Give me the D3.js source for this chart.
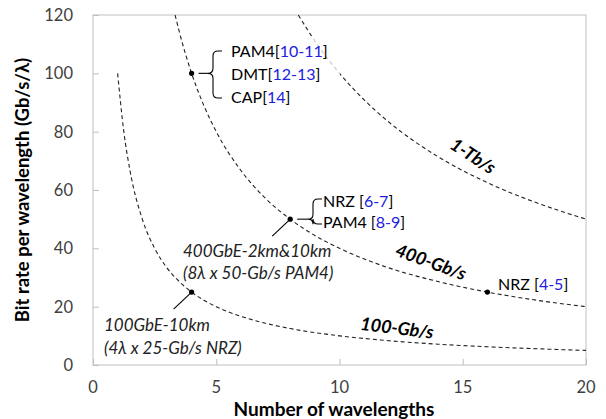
<!DOCTYPE html>
<html>
<head>
<meta charset="utf-8">
<script src="https://cdn.jsdelivr.net/npm/d3@7"></script>
<style>
  body { margin: 0; background: #fff; }
  svg { font-family: Lato, "Open Sans", sans-serif; }
</style>
</head>
<body>
<svg id="chart" width="606" height="419"></svg>
<script>
// curves: constant total capacity (Gb/s) = wavelengths x rate
const curve100X = [1, 1.25, 1.5, 2, 2.5, 3, 3.5, 4, 5, 6, 7, 8, 10, 12, 14, 16, 18, 20];
const curve100Y = [100, 80, 66.7, 50, 40, 33.3, 28.6, 25, 20, 16.7, 14.3, 12.5, 10, 8.33, 7.14, 6.25, 5.56, 5];
const curve400X = [3.33, 3.5, 4, 4.5, 5, 6, 7, 8, 9, 10, 12, 14, 16, 18, 20];
const curve400Y = [120, 114.3, 100, 88.9, 80, 66.7, 57.1, 50, 44.4, 40, 33.3, 28.6, 25, 22.2, 20];
const curve1TX = [8.33, 9, 10, 11, 12, 13, 14, 16, 18, 20];
const curve1TY = [120, 111.1, 100, 90.9, 83.3, 76.9, 71.4, 62.5, 55.6, 50];

const pointX = [4, 8, 4, 16];
const pointY = [100, 50, 25, 25];

const xTicks = [0, 5, 10, 15, 20];
const yTicks = [0, 20, 40, 60, 80, 100, 120];

const svg = d3.select("#chart");
const margin = { left: 93, right: 20, top: 15, bottom: 54 };
const width = 606, height = 419;

const x = d3.scaleLinear().domain([0, 20]).range([margin.left, width - margin.right]);
const y = d3.scaleLinear().domain([0, 120]).range([height - margin.bottom, margin.top]);

const axisColor = "#bfbfbf";
const textColor = "#404040";

// plot frame
svg.append("rect")
  .attr("x", x(0)).attr("y", y(120))
  .attr("width", x(20) - x(0)).attr("height", y(0) - y(120))
  .attr("fill", "none").attr("stroke", axisColor).attr("stroke-width", 1);

// axes (ticks inside)
const xAxis = svg.append("g")
  .attr("transform", `translate(0,${y(0)})`)
  .call(d3.axisTop(x).tickValues(xTicks).tickSize(6).tickFormat(""));
xAxis.select(".domain").remove();
xAxis.selectAll("line").attr("stroke", axisColor);

const yAxis = svg.append("g")
  .attr("transform", `translate(${x(0)},0)`)
  .call(d3.axisRight(y).tickValues(yTicks).tickSize(6).tickFormat(""));
yAxis.select(".domain").remove();
yAxis.selectAll("line").attr("stroke", axisColor);

svg.append("g").selectAll("text")
  .data(xTicks).join("text")
  .attr("x", d => x(d)).attr("y", 393)
  .attr("text-anchor", "middle")
  .attr("font-size", 16.5).attr("fill", textColor)
  .text(d => d);

svg.append("g").selectAll("text")
  .data(yTicks).join("text")
  .attr("x", 73).attr("y", d => y(d) + 6)
  .attr("text-anchor", "end")
  .attr("font-size", 16.5).attr("fill", textColor)
  .text(d => d);

// axis titles
svg.append("text")
  .attr("x", 334).attr("y", 416)
  .attr("text-anchor", "middle")
  .attr("font-size", 19).attr("font-weight", "bold").attr("fill", "#000")
  .text("Number of wavelengths");

svg.append("text")
  .attr("transform", `translate(29,${(y(0) + y(120)) / 2}) rotate(-90)`)
  .attr("text-anchor", "middle")
  .attr("font-size", 18.5).attr("font-weight", "bold").attr("fill", "#000")
  .text("Bit rate per wavelength (Gb/s/λ)");

// dashed curves
const line = d3.line().x(d => x(d[0])).y(d => y(d[1])).curve(d3.curveMonotoneX);
const curves = [
  d3.zip(curve100X, curve100Y),
  d3.zip(curve400X, curve400Y),
  d3.zip(curve1TX, curve1TY)
];
svg.append("g").selectAll("path")
  .data(curves).join("path")
  .attr("d", line)
  .attr("fill", "none")
  .attr("stroke", "#222")
  .attr("stroke-width", 1.1)
  .attr("stroke-dasharray", "4,3");

// semi-transparent box behind the modulation list
svg.append("rect")
  .attr("x", 218).attr("y", 36).attr("width", 122).attr("height", 76)
  .attr("fill", "#fff").attr("opacity", 0.75);

// points
svg.append("g").selectAll("circle")
  .data(d3.zip(pointX, pointY)).join("circle")
  .attr("cx", d => x(d[0])).attr("cy", d => y(d[1]))
  .attr("r", 2.6).attr("fill", "#000");

// curly braces and leader lines
const ann = svg.append("g").attr("fill", "none").attr("stroke", "#000").attr("stroke-width", 1.1);
function brace(bx, top, mid, bot, armEnd, nubStart) {
  const r = 5;
  ann.append("path").attr("d",
    `M${armEnd},${top} L${bx + r},${top} Q${bx},${top} ${bx},${top + r}` +
    ` L${bx},${mid - r} Q${bx},${mid} ${bx - r},${mid} Q${bx},${mid} ${bx},${mid + r}` +
    ` L${bx},${bot - r} Q${bx},${bot} ${bx + r},${bot} L${armEnd},${bot}`);
  ann.append("path").attr("d", `M${nubStart},${mid} L${bx - r},${mid}`);
}
brace(213, 51, y(100), 98, 222, x(4) + 7);
brace(313, 199, y(50), 224, 322, x(8) + 7);

ann.append("path").attr("d", `M${x(8) - 1},${y(50) + 1} L${x(8) - 18},${y(50) + 17}`);
ann.append("path").attr("d", `M${x(4) - 1},${y(25) + 1} L${x(4) - 18},${y(25) + 17}`);

// labels with blue references
function refLabel(tx, ty, name, ref, sep) {
  const t = svg.append("text").attr("x", tx).attr("y", ty)
    .attr("font-size", 16).attr("fill", "#000");
  t.append("tspan").text(name + sep + "[");
  t.append("tspan").attr("fill", "#2020e0").text(ref);
  t.append("tspan").text("]");
}
refLabel(231, 57, "PAM4", "10-11", "");
refLabel(231, 80, "DMT", "12-13", "");
refLabel(231, 103, "CAP", "14", "");
refLabel(323, 207, "NRZ", "6-7", " ");
refLabel(323, 228, "PAM4", "8-9", " ");
refLabel(498, 290, "NRZ", "4-5", " ");

// italic descriptions
const italics = [
  { tx: 183, ty: 257, s: "400GbE-2km&10km" },
  { tx: 183, ty: 279, s: "(8λ x 50-Gb/s PAM4)" },
  { tx: 104, ty: 331, s: "100GbE-10km" },
  { tx: 104, ty: 354, s: "(4λ x 25-Gb/s NRZ)" }
];
svg.append("g").selectAll("text")
  .data(italics).join("text")
  .attr("x", d => d.tx).attr("y", d => d.ty)
  .attr("font-size", 17).attr("font-style", "italic").attr("fill", "#222")
  .text(d => d.s);

// rotated curve labels
const curveLabels = [
  { cx: 473, cy: 156, a: 33, s: "1-Tb/s" },
  { cx: 431, cy: 262, a: 20, s: "400-Gb/s" },
  { cx: 397, cy: 328, a: 7, s: "100-Gb/s" }
];
svg.append("g").selectAll("text")
  .data(curveLabels).join("text")
  .attr("transform", d => `translate(${d.cx},${d.cy}) rotate(${d.a})`)
  .attr("text-anchor", "middle").attr("dy", "0.35em")
  .attr("font-size", 18).attr("font-weight", "bold").attr("font-style", "italic")
  .attr("fill", "#000")
  .text(d => d.s);
</script>
</body>
</html>
